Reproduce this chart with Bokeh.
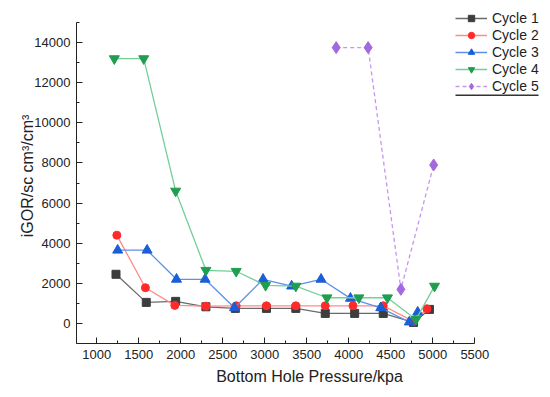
from bokeh.plotting import figure
from bokeh.models import Range1d, FixedTicker, Legend, LegendItem, BoxAnnotation
from bokeh.embed import file_html
from bokeh.resources import INLINE

# ---- data ----
series_names = ["Cycle 1", "Cycle 2", "Cycle 3", "Cycle 4", "Cycle 5"]
c1_x = [1230, 1590, 1940, 2300, 2650, 3020, 3370, 3720, 4070, 4410, 4770, 4960]
c1_y = [2450, 1050, 1100, 830, 750, 750, 750, 500, 500, 500, 50, 700]
c2_x = [1240, 1580, 1930, 2300, 2660, 3020, 3370, 3720, 4050, 4410, 4770, 4930]
c2_y = [4400, 1780, 900, 860, 880, 880, 880, 880, 880, 880, 100, 730]
c3_x = [1250, 1600, 1950, 2290, 2640, 2980, 3320, 3670, 4020, 4380, 4720, 4820]
c3_y = [3650, 3650, 2200, 2200, 780, 2200, 1860, 2200, 1250, 780, 70, 560]
c4_x = [1210, 1560, 1940, 2300, 2660, 3010, 3370, 3740, 4120, 4460, 4800, 5020]
c4_y = [13200, 13200, 6600, 2650, 2600, 1900, 1860, 1280, 1280, 1280, 200, 1860]
c5_x = [3850, 4230, 4620, 5010]
c5_y = [13750, 13750, 1700, 7900]
x_ticks = [1000, 1500, 2000, 2500, 3000, 3500, 4000, 4500, 5000, 5500]
y_ticks = [0, 2000, 4000, 6000, 8000, 10000, 12000, 14000]

FONT = "Liberation Sans"

p = figure(width=542, height=389, output_backend="svg", toolbar_location=None,
           x_range=Range1d(760, 6305), y_range=Range1d(-1000, 15700),
           min_border_left=76, min_border_right=0, min_border_top=8,
           min_border_bottom=46)
p.outline_line_color = None
p.xgrid.visible = False
p.ygrid.visible = False
p.background_fill_color = "white"

styles = [
    (c1_x, c1_y, "square", 8, "#3d3d3d", "#6a6a6a", "solid"),
    (c2_x, c2_y, "circle", 8, "#ff2b2b", "#ff8a8a", "solid"),
    (c3_x, c3_y, "triangle", 10, "#1a5fd6", "#5d90e8", "solid"),
    (c4_x, c4_y, "inverted_triangle", 10, "#1f9e4f", "#72cf98", "solid"),
    (c5_x, c5_y, "diamond", 12, "#a469dd", "#c596f0", "4 3"),
]
items = []
for name, (xs, ys, marker, sz, mc, lc, dash) in zip(series_names, styles):
    r1 = p.line(xs, ys, line_color=lc, line_width=1.3, line_dash=dash)
    r2 = p.scatter(xs, ys, marker=marker, size=sz, fill_color=mc, line_color=mc)
    items.append(LegendItem(label=name, renderers=[r1, r2]))

legend = Legend(items=items, location=(379, 249), padding=0, margin=0, spacing=1,
                glyph_width=32, glyph_height=16, label_standoff=5,
                label_text_font=FONT, label_text_font_size="14px",
                label_text_color="#222222", border_line_color=None,
                background_fill_alpha=0)
p.add_layout(legend, "center")

# thin rule under the legend (Origin-style legend frame), frame-relative screen units
rule = BoxAnnotation(left=379, right=462, top=249, bottom=247.6,
                     left_units="screen", right_units="screen",
                     top_units="screen", bottom_units="screen",
                     fill_color="#333333", fill_alpha=1.0, line_alpha=0)
p.add_layout(rule)

for ax in (p.xaxis[0], p.yaxis[0]):
    ax.major_tick_in = 6
    ax.major_tick_out = 0
    ax.minor_tick_in = 3
    ax.minor_tick_out = 0
    ax.axis_line_color = "#222222"
    ax.major_tick_line_color = "#222222"
    ax.minor_tick_line_color = "#222222"
    ax.major_label_text_font = FONT
    ax.major_label_text_font_size = "13px"
    ax.major_label_text_color = "#222222"
    ax.axis_label_text_font = FONT
    ax.axis_label_text_font_size = "16px"
    ax.axis_label_text_font_style = "normal"
    ax.axis_label_text_color = "#222222"
    ax.major_label_standoff = 6

p.xaxis.ticker = FixedTicker(ticks=x_ticks,
                             minor_ticks=[t + 250 for t in x_ticks[:-1]])
p.yaxis.ticker = FixedTicker(ticks=y_ticks,
                             minor_ticks=[t - 1000 for t in y_ticks] + [15000])
p.xaxis.bounds = (760, 5500)
p.yaxis.bounds = (-1000, 15000)
p.xaxis.axis_label = "Bottom Hole Pressure/kpa"
p.yaxis.axis_label = "iGOR/sc cm³/cm³"
p.xaxis.axis_label_standoff = 6
p.yaxis.axis_label_standoff = -5

open("out.html", "w").write(file_html(p, INLINE))
